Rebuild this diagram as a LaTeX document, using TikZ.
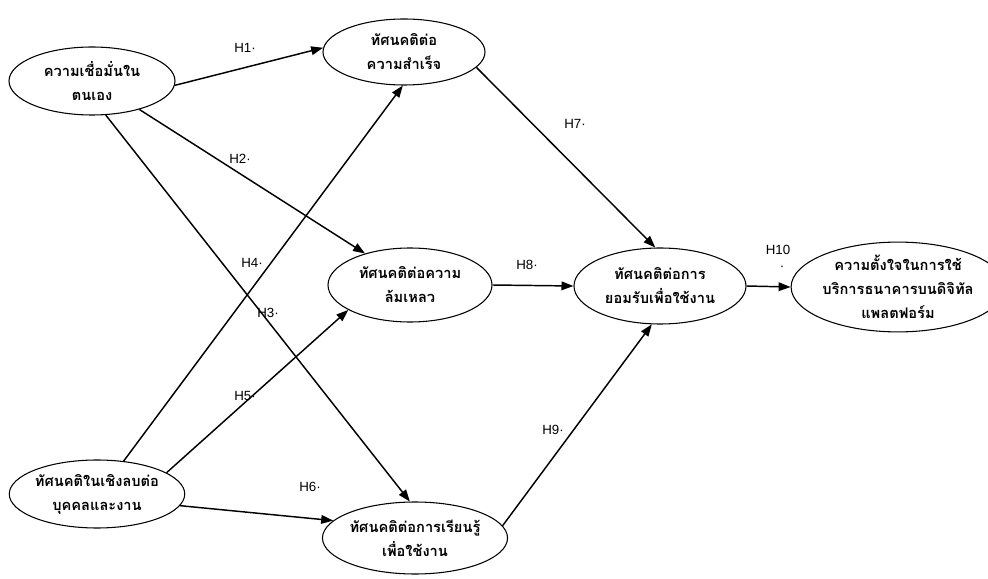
\documentclass[tikz,border=0pt]{standalone}
\usepackage{fontspec}
\setmainfont{Liberation Sans}
\newfontfamily\thai[Script=Thai]{Loma}
\usetikzlibrary{shapes.geometric,arrows.meta}
\tikzset{
  ell/.style 2 args={ellipse, draw, line width=0.8pt, inner sep=0pt, align=center,
    minimum width=#1*0.0528cm, minimum height=#2*0.0528cm,
    font=\thai\bfseries\fontsize{11}{18}\selectfont},
  link/.style={line width=1.1pt, -{Triangle[length=9pt,width=6.5pt]}},
  hlab/.style={font=\fontsize{10}{12}\selectfont, inner sep=1pt}
}
\begin{document}
\begin{tikzpicture}[x=0.0264cm,y=-0.0264cm]
\useasboundingbox (0,0) rectangle (988,579);
\node[ell={83}{34}] (n1) at (92,81) {ความเชื่อมั่นใน\\ตนเอง};
\node[ell={81}{33}] (n2) at (404,52) {ทัศนคติต่อ\\ความสำเร็จ};
\node[ell={82}{37}] (n3) at (410,285) {ทัศนคติต่อความ\\ล้มเหลว};
\node[ell={86}{38}] (n4) at (660,286) {ทัศนคติต่อการ\\ยอมรับเพื่อใช้งาน};
\node[ell={89}{41}] (n5) at (898,287) {ความตั้งใจในการใช้\\บริการธนาคารบนดิจิทัล\\แพลตฟอร์ม};
\node[ell={82}{34}] (n6) at (97,494) {ทัศนคติในเชิงลบต่อ\\บุคคลและงาน};
\node[ell={83}{36}] (n7) at (415,538) {ทัศนคติต่อการเรียนรู้\\เพื่อใช้งาน};

\draw[link] (n1.-3) -- (n2.177);
\draw[link] (n1.-31) -- (n3.145);
\draw[link] (n1.-68) -- (n7.98);
\draw[link] (n6.51) -- (n2.-92);
\draw[link] (n6.17) -- (n3.202);
\draw[link] (n6.-8) -- (n7.168);
\draw[link] (n2.-12) -- (n4.97);
\draw[link] (n3.east) -- (n4.west);
\draw[link] (n7.8) -- (n4.-102);
\draw[link] (n4.east) -- (n5.west);

\node[hlab] (h1) at (245,48) {H1·};
\node[hlab] (h2) at (240,159) {H2·};
\node[hlab] (h4) at (252,263) {H4·};
\node[hlab] (h3) at (268,313) {H3·};
\node[hlab] (h5) at (245,396) {H5·};
\node[hlab] (h6) at (310,487) {H6·};
\node[hlab] (h7) at (575,124) {H7·};
\node[hlab] (h8) at (527,265) {H8·};
\node[hlab] (h9) at (553,430) {H9·};
\node[hlab] (h10) at (778,250) {H10};
\node[hlab] (h10d) at (782,268) {·};
\end{tikzpicture}
\end{document}
